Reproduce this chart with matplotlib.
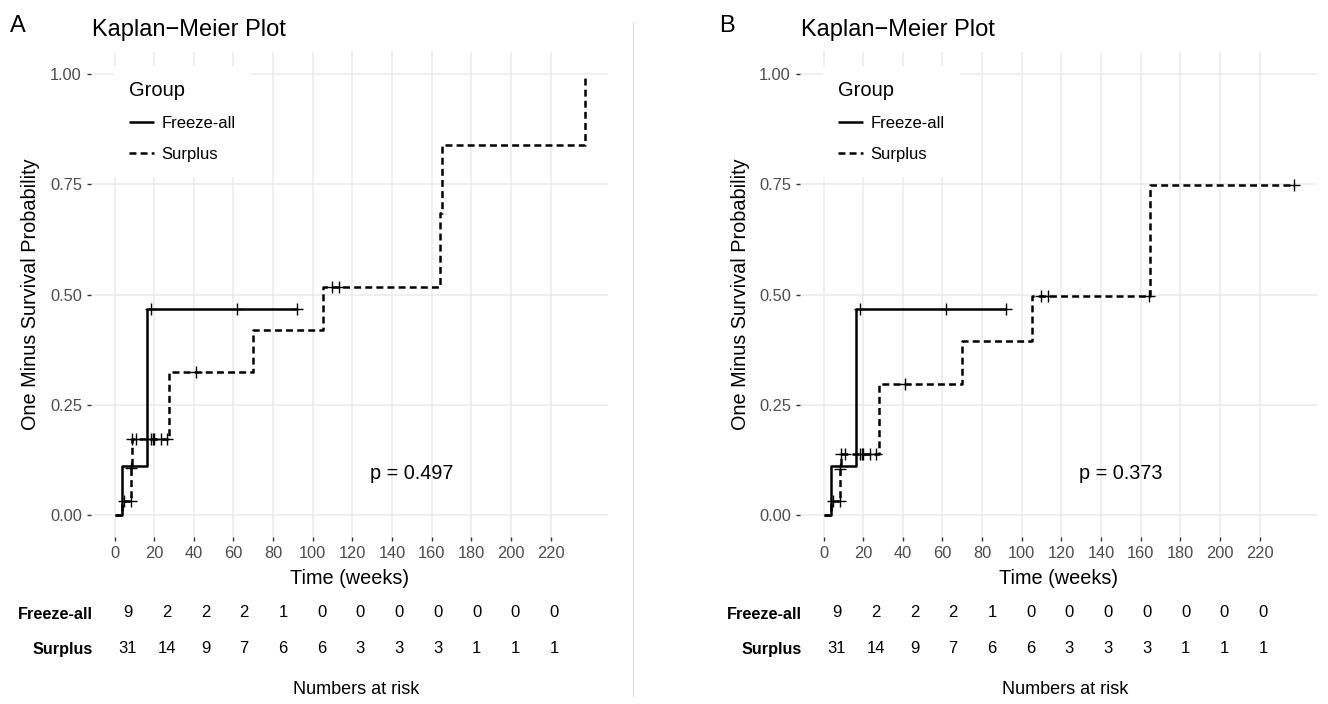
import numpy as np
import matplotlib
matplotlib.use("Agg")
import matplotlib.pyplot as plt
from matplotlib.lines import Line2D

plt.rcParams['font.family'] = ['Liberation Sans', 'DejaVu Sans']
plt.rcParams['lines.scale_dashes'] = False

# ---------------- data ----------------
groups = ["Freeze-all", "Surplus"]

# Panel A
A_free_event_t = [3.9, 16.5]
A_free_event_y = [0.111, 0.467]
A_free_censor_t = [18.2, 61.9, 92.2]
A_free_end = 92.2

A_surp_event_t = [4.0, 8.4, 8.7, 27.7, 69.6, 105.3, 164.1, 165.3, 237.3]
A_surp_event_y = [0.032, 0.107, 0.173, 0.324, 0.420, 0.516, 0.684, 0.840, 1.0]
A_surp_censor_t = [4.7, 8.1, 8.55, 9.0, 10.9, 18.5, 19.3, 20.0, 23.2, 26.6, 40.9, 109.8, 113.2]
A_surp_end = 237.3
A_pval = "p = 0.497"

# Panel B
B_free_event_t = [3.9, 16.5]
B_free_event_y = [0.111, 0.467]
B_free_censor_t = [18.2, 61.9, 92.2]
B_free_end = 92.2

B_surp_event_t = [4.0, 8.4, 8.7, 27.8, 69.7, 105.3, 164.8]
B_surp_event_y = [0.032, 0.105, 0.138, 0.296, 0.394, 0.496, 0.748]
B_surp_censor_t = [4.7, 8.1, 8.55, 9.0, 10.9, 18.5, 19.3, 20.0, 23.2, 26.4, 40.9, 109.8, 113.2, 164.2, 237.3]
B_surp_end = 237.3
B_pval = "p = 0.373"

# Numbers at risk
risk_times = [0, 20, 40, 60, 80, 100, 120, 140, 160, 180, 200, 220]
free_risk = [9, 2, 2, 2, 1, 0, 0, 0, 0, 0, 0, 0]
surp_risk = [31, 14, 9, 7, 6, 6, 3, 3, 3, 1, 1, 1]

x_ticks = [0, 20, 40, 60, 80, 100, 120, 140, 160, 180, 200, 220]
y_ticks = [0.0, 0.25, 0.50, 0.75, 1.00]
y_ticklabels = ["0.00", "0.25", "0.50", "0.75", "1.00"]

# ---------------- layout helpers ----------------
W, H = 1328, 704
fig = plt.figure(figsize=(W / 100, H / 100), dpi=100)


def fx(px):
    return px / W


def fy(py):
    return 1 - py / H


XLIM = (-11.85, 248.85)
YLIM = (-0.05, 1.05)
GRID = '#EBEBEB'
TICKLAB = '#4D4D4D'


def km(ax, et, ey, ct, end, ls, label):
    et = np.asarray(et, float)
    ey = np.asarray(ey, float)
    t = np.concatenate([[0.0], et, [end]])
    y = np.concatenate([[0.0], ey, [ey[-1]]])
    ax.step(t, y, where='post', color='black', lw=1.8, ls=ls, label=label,
            solid_capstyle='butt', dash_capstyle='butt')
    lev = np.concatenate([[0.0], ey])
    idx = np.searchsorted(et, np.asarray(ct, float), side='right')
    ax.plot(ct, lev[idx], ls='none', marker='+', ms=8, mew=1.0, color='black')


def panel(dx, letter, free, surp, pval):
    ax = fig.add_axes([fx(91 + dx), fy(537), (608 - 91) / W, (537 - 52) / H])
    ax.set_xlim(*XLIM)
    ax.set_ylim(*YLIM)
    for s in ax.spines.values():
        s.set_visible(False)
    ax.set_xticks(x_ticks)
    ax.set_yticks(y_ticks)
    ax.set_yticklabels(y_ticklabels)
    ax.grid(True, color=GRID, lw=1.1)
    ax.set_axisbelow(True)
    ax.tick_params(axis='both', length=3, width=1.0, color='#333333',
                   labelcolor=TICKLAB, labelsize=11.8, pad=3.5)

    km(ax, *free, '-', groups[0])
    km(ax, *surp, (0, (5, 3)), groups[1])

    ax.text(150, 0.094, pval, ha='center', va='center', fontsize=14.3)

    ax0 = (114 - 91) / 517
    ay0 = 1 - (66 - 52) / 485
    ax.legend(loc='upper left', bbox_to_anchor=(ax0, ay0), frameon=True,
              fancybox=False, edgecolor='none', facecolor='white', framealpha=1,
              borderpad=0.9, title='Group', title_fontsize=14.5, fontsize=12,
              handlelength=1.5, handletextpad=0.45, labelspacing=0.95,
              borderaxespad=0, alignment='left')

    # numbers at risk table
    tax = fig.add_axes([fx(105 + dx), fy(666), (610 - 105) / W, (666 - 595) / H])
    tax.set_xlim(*XLIM)
    tax.set_ylim(1.5, -0.5)
    for s in tax.spines.values():
        s.set_visible(False)
    tax.set_xticks([])
    tax.set_yticks([0, 1])
    tax.set_yticklabels(groups, fontweight='bold', fontsize=11.7)
    tax.tick_params(axis='y', length=0, pad=9)
    for row, vals in enumerate([free_risk, surp_risk]):
        for t, n in zip(risk_times, vals):
            tax.text(t, row, str(n), ha='center', va='center', fontsize=12)

    # texts
    fig.text(fx(349.5 + dx), fy(578), 'Time (weeks)', ha='center', va='center', fontsize=14.3)
    fig.text(fx(356 + dx), fy(690), 'Numbers at risk', ha='center', va='center', fontsize=13)
    fig.text(fx(31 + dx), fy(294.5), 'One Minus Survival Probability', rotation=90,
             ha='center', va='center', fontsize=14.3)
    fig.text(fx(92 + dx), fy(36), 'Kaplan\u2212Meier Plot', ha='left', va='baseline', fontsize=17)
    fig.text(fx(10 + dx), fy(31.7), letter, ha='left', va='baseline', fontsize=17)
    return ax


panel(0, 'A',
      (A_free_event_t, A_free_event_y, A_free_censor_t, A_free_end),
      (A_surp_event_t, A_surp_event_y, A_surp_censor_t, A_surp_end), A_pval)
panel(709, 'B',
      (B_free_event_t, B_free_event_y, B_free_censor_t, B_free_end),
      (B_surp_event_t, B_surp_event_y, B_surp_censor_t, B_surp_end), B_pval)

fig.add_artist(Line2D([fx(633.3), fx(633.3)], [fy(22), fy(696)], color='#DDDDDD', lw=0.8))

fig.savefig('out.png', dpi=100, facecolor='white')
